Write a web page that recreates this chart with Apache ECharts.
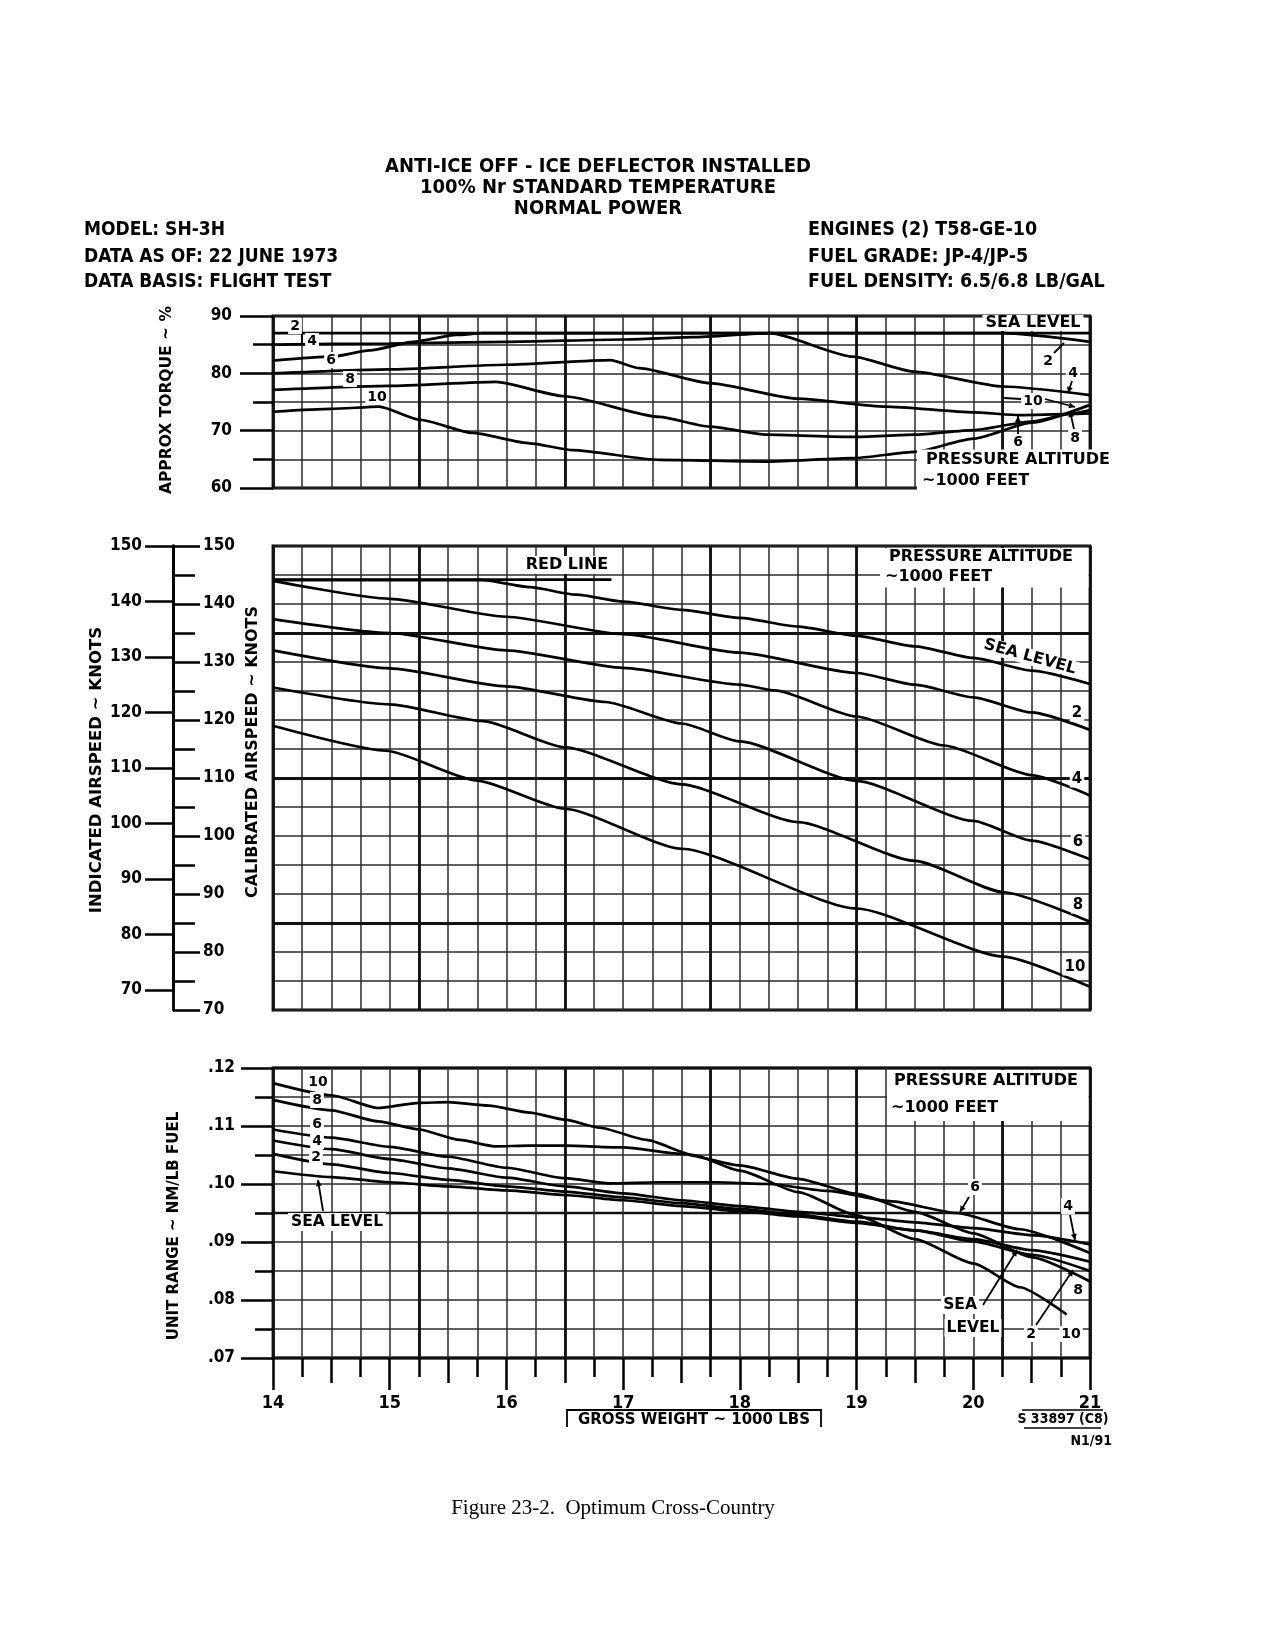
<!DOCTYPE html>
<html><head><meta charset="utf-8">
<script src="https://cdn.jsdelivr.net/npm/echarts/dist/echarts.min.js"></script>
<style>html,body{margin:0;padding:0;background:#fff;}#c{width:1275px;height:1650px;}</style>
</head><body><div id="c"></div>
<script>
// ---------- DATA (gross weight in 1000 lb) ----------
// Approx torque (%)
const tqSL  = [[14,82.2],[14.5,82.9],[14.83,84.0],[15.2,85.5],[15.57,86.7],[15.8,87.0],[21,87.0]];
const tq2   = [[14,87.0],[20.26,87.0],[21,85.5]];
const tq4   = [[14,85.0],[15,85.2],[16,85.5],[17,85.9],[17.6,86.3],[18.26,87.0],[18.97,82.9],[19.49,80.3],[20.26,77.7],[21,76.2]];
const tq6   = [[14,80.0],[15,80.7],[16,81.5],[16.89,82.3],[17.14,80.9],[17.74,78.3],[18.49,75.6],[19.25,74.2],[20.0,73.2],[20.4,72.7],[21,73.0]];
const tq8   = [[14,77.1],[15,77.8],[15.91,78.5],[16.5,76.0],[17.31,72.4],[17.74,70.7],[18.23,69.3],[18.97,68.9],[19.5,69.3],[20.0,70.1],[20.5,71.6],[20.85,73.0],[21,73.6]];
const tq10  = [[14,73.3],[14.5,73.8],[14.91,74.2],[15.26,71.9],[15.71,69.6],[16.2,67.8],[16.57,66.6],[17.31,64.9],[18.23,64.6],[18.97,65.2],[19.5,66.3],[20.0,68.6],[20.5,71.4],[21,74.5]];
// Calibrated airspeed (knots)
const casRedLine = [[14,144.2],[16.9,144.2]];
const casSL = [[14,144.1],[15.8,144.1],[16.2,142.9],[16.6,141.6],[17,140.4],[17.5,139.0],[18,137.6],[18.5,136.1],[19,134.5],[19.5,132.7],[20,130.7],[20.5,128.5],[21,126.2]];
const cas2  = [[14,144.0],[15,140.9],[16,137.8],[17,134.8],[18,131.6],[19,128.1],[19.5,126.1],[20,123.9],[20.5,121.3],[21,118.3]];
const cas4  = [[14,137.4],[15,135.0],[16,132.0],[17,129.0],[18,126.1],[18.3,125.1],[19,120.6],[19.75,115.6],[20.5,110.5],[21,107.0]];
const cas6  = [[14,132.0],[15,128.9],[16,125.8],[16.85,123.1],[17.5,119.4],[18,116.3],[19,109.5],[20,102.6],[20.5,99.2],[21,96.0]];
const cas8  = [[14,125.6],[15,122.7],[15.8,119.8],[16.5,115.3],[17.5,108.9],[18.5,102.4],[19.5,95.7],[20.26,90.3],[21,85.2]];
const cas10 = [[14,119.0],[14.97,114.7],[15.74,109.6],[16.5,104.7],[17.5,97.8],[19.0,87.5],[20.26,79.2],[21.0,74.0]];
const casHeavyLines = [85,110,135];
// Unit range (NM/LB fuel)
const urSL = [[14,0.1022],[14.5,0.1012],[15,0.1003],[15.5,0.0996],[16,0.0989],[16.5,0.0981],[17,0.0972],[17.5,0.0962],[18,0.0953],[18.5,0.0944],[19,0.0933],[19.5,0.0920],[20,0.0905],[20.5,0.0886],[21,0.0866]];
const ur2  = [[14,0.1052],[14.5,0.1034],[15,0.1019],[15.5,0.1007],[16,0.0996],[16.5,0.0987],[17,0.0977],[17.5,0.0967],[18,0.0957],[18.5,0.0947],[19,0.0935],[19.5,0.0920],[20,0.0901],[20.5,0.0878],[21,0.0850]];
const ur4  = [[14,0.1075],[14.5,0.1060],[15,0.1043],[15.5,0.1027],[16,0.1011],[16.5,0.0996],[17,0.0984],[17.5,0.0972],[18,0.0962],[18.5,0.0952],[19,0.0943],[19.5,0.0934],[20,0.0924],[20.5,0.0912],[21,0.0896]];
const ur6  = [[14,0.1094],[14.5,0.1080],[15,0.1064],[15.5,0.1047],[16,0.1028],[16.5,0.1010],[16.9,0.1001],[17.3,0.1003],[17.8,0.1003],[18.25,0.1000],[18.75,0.0988],[19.3,0.0970],[19.86,0.0950],[20.4,0.0922],[21,0.0881]];
const ur8  = [[14,0.1145],[14.5,0.1127],[14.9,0.1108],[15.25,0.1094],[15.6,0.1076],[15.9,0.1065],[16.2,0.1066],[16.5,0.1066],[17,0.1063],[17.5,0.1052],[18,0.1032],[18.5,0.1009],[19,0.0983],[19.5,0.0952],[20,0.0915],[20.5,0.0874],[21,0.0832]];
const ur10 = [[14,0.1174],[14.5,0.1153],[14.9,0.1131],[15.25,0.1140],[15.5,0.1141],[15.85,0.1135],[16.2,0.1123],[16.5,0.1111],[16.8,0.1097],[17.2,0.1076],[17.6,0.1050],[18,0.1023],[18.5,0.0986],[19,0.0946],[19.5,0.0905],[20,0.0863],[20.4,0.0822],[20.8,0.0775]];

// ---------- STYLE ----------
const F_HEAD = "'Liberation Sans Narrow','DejaVu Sans Condensed','Arial Narrow',sans-serif";
const F_LAB = "'DejaVu Sans',Verdana,sans-serif";
const F_SERIF = "'Liberation Serif','Times New Roman',serif";
const GRID_LINE = {color:'#2b2b2b', width:1.5};
const HEAVY_LINE = {color:'#111', width:2.8};
const TICK = {color:'#000', width:2.5};

const chart = echarts.init(document.getElementById('c'), null, {renderer:'canvas'});

function xMain(gi, ticks){
  return {type:'value', gridIndex:gi, position:'bottom', min:14, max:21, interval:1,
    axisLine:{show:false},
    axisTick:{show:ticks, length:32, lineStyle:TICK},
    minorTick:{show:ticks, splitNumber:4, length:19, lineStyle:TICK},
    axisLabel:{show:ticks, margin:36, fontFamily:F_HEAD, fontWeight:'bold', fontSize:18, color:'#000'},
    splitLine:{show:true, lineStyle:GRID_LINE},
    minorSplitLine:{show:true, lineStyle:GRID_LINE}};
}
function xHeavy(gi){
  return {type:'value', gridIndex:gi, position:'bottom', min:14, max:21, interval:1.25,
    axisLine:{show:false}, axisTick:{show:false}, axisLabel:{show:false},
    splitLine:{show:true, lineStyle:HEAVY_LINE}};
}
function curve(data, xi, yi, extra){
  return Object.assign({type:'line', data, xAxisIndex:xi, yAxisIndex:yi, symbol:'none', showSymbol:false,
    smooth:0.2, smoothMonotone:'x', silent:true, z:5, lineStyle:{color:'#000', width:2.7}}, extra||{});
}
function heavyMark(vals){
  return {silent:true, symbol:'none', precision:4, label:{show:false}, lineStyle:{color:'#111', width:2.8, type:'solid'},
    data: vals.map(v => ({yAxis:v}))};
}

// ---------- ANNOTATIONS ----------
function T(x,y,text,o){ o=o||{};
  const st = {text, x:0, y:0, align:o.align||'center', verticalAlign:'middle',
    fontFamily:o.family||F_LAB, fontWeight:o.weight||'bold', fontSize:o.size||14, fill:'#000'};
  if(o.bg){ st.backgroundColor='#fff'; st.padding=o.pad||[1,2]; }
  return {type:'text', x, y, rotation:o.rot||0, z:100, style:st};
}
function L(x1,y1,x2,y2,w){ return {type:'line', z:100, shape:{x1,y1,x2,y2}, style:{stroke:'#000', lineWidth:w||2}}; }
function A(x1,y1,x2,y2){
  const a=Math.atan2(y2-y1,x2-x1), s=6;
  const p1=[x2-s*Math.cos(a)+3*Math.sin(a), y2-s*Math.sin(a)-3*Math.cos(a)];
  const p2=[x2-s*Math.cos(a)-3*Math.sin(a), y2-s*Math.sin(a)+3*Math.cos(a)];
  return [L(x1,y1,x2,y2,1.8), {type:'polygon', z:100, shape:{points:[[x2,y2],p1,p2]}, style:{fill:'#000'}}];
}
function R(x,y,w,h){ return {type:'rect', z:90, shape:{x,y,width:w,height:h}, style:{fill:'#fff'}}; }

const graphics = [
  // header
  T(598,167,'ANTI-ICE OFF - ICE DEFLECTOR INSTALLED',{family:F_HEAD,size:20}),
  T(598,188,'100% Nr STANDARD TEMPERATURE',{family:F_HEAD,size:20}),
  T(598,209,'NORMAL POWER',{family:F_HEAD,size:20}),
  T(84,230,'MODEL: SH-3H',{family:F_HEAD,size:19,align:'left'}),
  T(84,257,'DATA AS OF: 22 JUNE 1973',{family:F_HEAD,size:19,align:'left'}),
  T(84,282,'DATA BASIS: FLIGHT TEST',{family:F_HEAD,size:19,align:'left'}),
  T(808,230,'ENGINES (2) T58-GE-10',{family:F_HEAD,size:19.5,align:'left'}),
  T(808,257,'FUEL GRADE: JP-4/JP-5',{family:F_HEAD,size:19.5,align:'left'}),
  T(808,282,'FUEL DENSITY: 6.5/6.8 LB/GAL',{family:F_HEAD,size:19.5,align:'left'}),
  // axis names
  T(167,400,'APPROX TORQUE ~ %',{rot:Math.PI/2,size:15.5}),
  T(97,770,'INDICATED AIRSPEED ~ KNOTS',{rot:Math.PI/2,size:16.5}),
  T(253,752,'CALIBRATED AIRSPEED ~ KNOTS',{rot:Math.PI/2,size:16}),
  T(174,1226,'UNIT RANGE ~ NM/LB FUEL',{rot:Math.PI/2,size:15}),
  // ---- top chart
  R(917,449.5,185,43),
  T(926,460,'PRESSURE ALTITUDE',{align:'left',size:16}),
  T(922,481,'~1000 FEET',{align:'left',size:16}),
  T(1033,323,'SEA LEVEL',{size:16,bg:true,pad:[0,3]}),
  L(302,333,302,345,2),
  T(295,326,'2',{bg:true}), T(312,341,'4',{bg:true}), T(331,360,'6',{bg:true}),
  T(350,379,'8',{bg:true}), T(377,397,'10',{bg:true}),
  T(1048,361,'2',{bg:true}), T(1073,373,'4',{bg:true}), T(1033,401,'10',{bg:true}),
  T(1018,442,'6',{bg:true}), T(1075,438,'8',{bg:true}),
  L(1054,353,1064,343,1.8), L(1004,398,1021,399,1.8),
  ...A(1072,381,1068,393), ...A(1045,399,1075,407), ...A(1018,434,1018,416), ...A(1074,429,1070,411),
  // ---- middle chart
  R(880,548,208.5,39.5),
  T(889,557,'PRESSURE ALTITUDE',{align:'left',size:16}),
  T(885,577,'~1000 FEET',{align:'left',size:16}),
  T(567,565,'RED LINE',{size:16,bg:true,pad:[1,4]}),
  T(1030,657,'SEA LEVEL',{size:16,rot:-0.27,bg:true,pad:[0,2]}),
  T(1077,713,'2',{bg:true,size:15}), T(1077,779,'4',{bg:true,size:15}), T(1078,842,'6',{bg:true,size:15}),
  T(1078,905,'8',{bg:true,size:15}), T(1075,967,'10',{bg:true,size:15}),
  // ---- bottom chart
  R(887,1070,201.5,51),
  T(894,1081,'PRESSURE ALTITUDE',{align:'left',size:16}),
  T(891,1108,'~1000 FEET',{align:'left',size:16}),
  T(318,1082,'10',{bg:true}), T(317,1100,'8',{bg:true}), T(317,1124,'6',{bg:true}),
  T(317,1141,'4',{bg:true}), T(316,1157,'2',{bg:true}),
  T(337,1222,'SEA LEVEL',{bg:true,size:15.5,pad:[1,3]}),
  ...A(323,1211,318,1180),
  T(975,1187,'6',{bg:true}), ...A(969,1197,960,1212),
  T(1068,1206,'4',{bg:true}), ...A(1070,1215,1075,1240),
  T(1078,1290,'8',{bg:true}),
  T(960,1305,'SEA',{bg:true,size:15.5}), T(973,1328,'LEVEL',{bg:true,size:15.5}),
  ...A(983,1305,1017,1250),
  T(1031,1334,'2',{bg:true}), ...A(1036,1325,1073,1270),
  T(1071,1334,'10',{bg:true}),
  // ---- footer
  T(694,1420,'GROSS WEIGHT ~ 1000 LBS',{size:15}),
  L(566,1410,822,1410,1.8), L(567,1410,567,1427,1.8), L(821,1410,821,1427,1.8),
  T(1063,1419,'S 33897 (C8)',{family:F_HEAD,size:14}),
  L(1022,1410,1103,1410,1.5), L(1024,1428,1101,1428,1.5),
  T(1112,1441,'N1/91',{family:F_HEAD,size:14,align:'right'}),
  T(613,1508,'Figure 23-2.  Optimum Cross-Country',{family:F_SERIF,weight:'normal',size:21})
];

const option = {
  animation:false,
  backgroundColor:'#fff',
  grid:[
    {left:273, top:316, width:817, height:172, show:true, borderColor:'#000', borderWidth:2.8},
    {left:273, top:546, width:817, height:464, show:true, borderColor:'#000', borderWidth:2.8},
    {left:273, top:546, width:817, height:444, show:false},
    {left:273, top:1068, width:817, height:290, show:true, borderColor:'#000', borderWidth:2.8}
  ],
  xAxis:[
    xMain(0,false), xHeavy(0),
    xMain(1,false), xHeavy(1),
    {type:'value', gridIndex:2, position:'bottom', min:14, max:21, show:false},
    xMain(3,true), xHeavy(3),
    {type:'value', gridIndex:3, position:'bottom', min:14, max:21, interval:0.5,
      axisLine:{show:false}, axisTick:{show:true, length:25, lineStyle:TICK}, axisLabel:{show:false}, splitLine:{show:false}}
  ],
  yAxis:[
    {type:'value', gridIndex:0, position:'left', min:60, max:90, interval:10,
      axisLine:{show:false},
      axisTick:{show:true, length:33, lineStyle:TICK},
      minorTick:{show:true, splitNumber:2, length:20, lineStyle:TICK},
      axisLabel:{margin:41, fontFamily:F_HEAD, fontWeight:'bold', fontSize:17, color:'#000'},
      splitLine:{show:true, lineStyle:GRID_LINE}, minorSplitLine:{show:true, lineStyle:GRID_LINE}},
    {type:'value', gridIndex:1, position:'left', offset:100, min:70, max:150, interval:10,
      axisLine:{show:true, lineStyle:{color:'#000', width:2.8}},
      axisTick:{show:true, inside:true, length:27, lineStyle:TICK},
      minorTick:{show:true, splitNumber:2, length:22, lineStyle:TICK},
      axisLabel:{inside:true, margin:30, fontFamily:F_HEAD, fontWeight:'bold', fontSize:17, color:'#000'},
      splitLine:{show:true, lineStyle:GRID_LINE}, minorSplitLine:{show:true, lineStyle:GRID_LINE}},
    {type:'value', gridIndex:2, position:'left', offset:100, min:70, max:150, interval:10,
      axisLine:{show:true, lineStyle:{color:'#000', width:2.8}},
      axisTick:{show:true, length:28, lineStyle:TICK},
      axisLabel:{margin:31, fontFamily:F_HEAD, fontWeight:'bold', fontSize:17, color:'#000'},
      splitLine:{show:false}},
    {type:'value', gridIndex:3, position:'left', min:0.07, max:0.12, interval:0.01,
      axisLine:{show:false},
      axisTick:{show:true, length:32, lineStyle:TICK},
      minorTick:{show:true, splitNumber:2, length:18, lineStyle:TICK},
      axisLabel:{margin:38, fontFamily:F_HEAD, fontWeight:'bold', fontSize:17, color:'#000',
        formatter: v => v.toFixed(2).replace(/^0/, '')},
      splitLine:{show:true, lineStyle:GRID_LINE}, minorSplitLine:{show:true, lineStyle:GRID_LINE}},
    // heavy horizontal rule of the unit-range grid (ticks counted from min: .07, .095, .12)
    {type:'value', gridIndex:3, position:'left', min:0.07, max:0.12, interval:0.025,
      axisLine:{show:false}, axisTick:{show:false}, axisLabel:{show:false},
      splitLine:{show:true, lineStyle:{color:'#111', width:2.3}}}
  ],
  series:[
    curve(tqSL,0,0), curve(tq2,0,0), curve(tq4,0,0), curve(tq6,0,0), curve(tq8,0,0), curve(tq10,0,0),
    curve(casRedLine,2,1,{smooth:false, markLine:heavyMark(casHeavyLines)}),
    curve(casSL,2,1), curve(cas2,2,1), curve(cas4,2,1), curve(cas6,2,1), curve(cas8,2,1), curve(cas10,2,1),
    curve(urSL,5,3), curve(ur2,5,3), curve(ur4,5,3), curve(ur6,5,3), curve(ur8,5,3), curve(ur10,5,3)
  ],
  graphic:{elements:graphics}
};
chart.setOption(option);
</script></body></html>
